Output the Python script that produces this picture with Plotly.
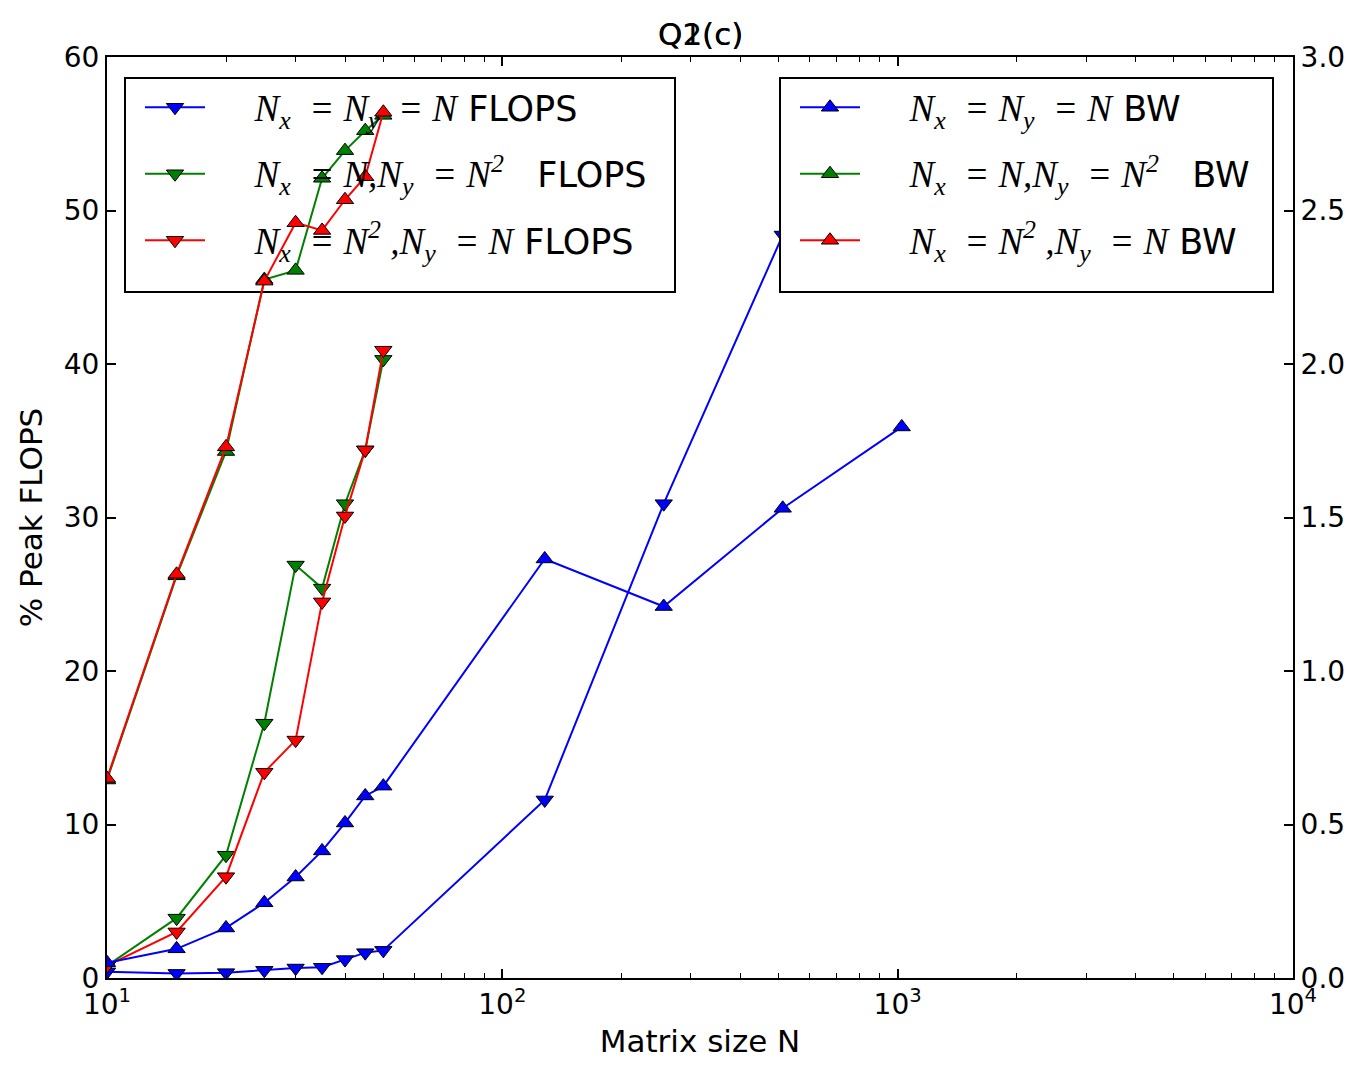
import plotly.graph_objects as go

# ---- data ----
N_small = [10, 15, 20, 25, 30, 35, 40, 45, 50]
N_flops_nn = [10, 15, 20, 25, 30, 35, 40, 45, 50, 128, 256, 512]
N_bw_nn = [10, 15, 20, 25, 30, 35, 40, 45, 50, 128, 256, 512, 1024]

flops_nn = [0.4, 0.3, 0.35, 0.5, 0.65, 0.7, 1.2, 1.65, 1.8, 11.6, 30.9, 48.4]
flops_nn2 = [0.8, 3.9, 8.0, 16.6, 26.9, 25.4, 30.9, 34.4, 40.3]
flops_n2n = [0.8, 3.0, 6.6, 13.4, 15.5, 24.5, 30.1, 34.4, 40.9]

bw_nn = [0.05, 0.095, 0.163, 0.245, 0.329, 0.414, 0.505, 0.593, 0.625, 1.365, 1.21, 1.53, 1.795]
bw_nn2 = [0.645, 1.31, 1.715, 2.275, 2.305, 2.605, 2.695, 2.76, 2.81]
bw_n2n = [0.65, 1.315, 1.73, 2.27, 2.46, 2.435, 2.535, 2.61, 2.82]

x_tickvals = [10, 100, 1000, 10000]
x_ticktext = ["10<sup>1</sup>", "10<sup>2</sup>", "10<sup>3</sup>", "10<sup>4</sup>"]
x_minor = [m * d for d in (10, 100, 1000) for m in range(2, 10)]

MATH = "font-family:'Liberation Serif','DejaVu Serif',serif;font-style:italic;font-size:37px"
SP = "\u00a0"
EQ = SP * 2 + "=" + SP
def m(s):
    return f"<span style=\"{MATH}\">{s}</span>"

lead = SP * 4
lab_flops = [
    lead + m(f"N<sub>x</sub>{EQ}N<sub>y</sub>{EQ}N") + " FLOPS",
    lead + m(f"N<sub>x</sub>{EQ}N,N<sub>y</sub>{EQ}N<sup>2</sup>") + SP * 3 + "FLOPS",
    lead + m(f"N<sub>x</sub>{EQ}N<sup>2</sup>{SP},N<sub>y</sub>{EQ}N") + " FLOPS",
]
lab_bw = [
    lead + m(f"N<sub>x</sub>{EQ}N<sub>y</sub>{EQ}N") + " BW",
    lead + m(f"N<sub>x</sub>{EQ}N,N<sub>y</sub>{EQ}N<sup>2</sup>") + SP * 3 + "BW",
    lead + m(f"N<sub>x</sub>{EQ}N<sup>2</sup>{SP},N<sub>y</sub>{EQ}N") + " BW",
]

BLUE, GREEN, RED = "#0000ff", "#008000", "#ff0000"

fig = go.Figure()

def add(x, y, color, sym, name, yaxis, legend, group):
    fig.add_trace(go.Scatter(
        x=x, y=y, mode="lines+markers", name=name, yaxis=yaxis, legend=legend,
        legendgroup=group,
        line=dict(color=color, width=2),
        marker=dict(symbol=sym, size=15, color=color, line=dict(color="black", width=1)),
    ))

add(N_flops_nn, flops_nn, BLUE, "triangle-down", lab_flops[0], "y", "legend", "f1")
add(N_small, flops_nn2, GREEN, "triangle-down", lab_flops[1], "y", "legend", "f2")
add(N_small, flops_n2n, RED, "triangle-down", lab_flops[2], "y", "legend", "f3")
add(N_bw_nn, bw_nn, BLUE, "triangle-up", lab_bw[0], "y2", "legend2", "b1")
add(N_small, bw_nn2, GREEN, "triangle-up", lab_bw[1], "y2", "legend2", "b2")
add(N_small, bw_n2n, RED, "triangle-up", lab_bw[2], "y2", "legend2", "b3")

# page offset of the plot div (body margin)
OX, OY = 8, 8
W, H = 1340, 1051
# plot area in page pixels
L, R, T, B = 107, 1293, 57, 978

def px(xp):
    return (xp - L) / (R - L)

def py(yp):
    return (B - yp) / (B - T)

tickfont = dict(family="DejaVu Sans", size=28, color="black")

fig.update_layout(
    width=W, height=H,
    margin=dict(l=L - OX, r=W - (R - OX), t=T - OY, b=H - (B - OY), pad=0),
    paper_bgcolor="white", plot_bgcolor="white",
    showlegend=True,
    font=dict(family="DejaVu Sans", color="black"),
    xaxis=dict(
        type="log", range=[1, 4], automargin=False,
        tickvals=x_tickvals, ticktext=x_ticktext,
        ticks="inside", ticklen=9, tickwidth=1.5, tickcolor="black",
        minor=dict(tickvals=x_minor, ticks="inside", ticklen=5, tickcolor="black",
                   tickwidth=1, showgrid=False),
        showline=True, linecolor="black", linewidth=2, mirror="ticks",
        showgrid=False, zeroline=False,
        tickfont=tickfont,
        title=dict(text="Matrix size N", font=dict(size=31), standoff=18),
    ),
    yaxis=dict(
        range=[0, 60], dtick=10, automargin=False,
        ticks="inside", ticklen=9, tickwidth=1.5, tickcolor="black",
        showline=True, linecolor="black", linewidth=2, mirror=True,
        showgrid=False, zeroline=False,
        tickfont=tickfont,
        title=dict(text="% Peak FLOPS", font=dict(size=31), standoff=12),
    ),
    yaxis2=dict(
        overlaying="y", side="right", automargin=False,
        range=[0, 3], dtick=0.5, tickformat=".1f",
        ticks="inside", ticklen=9, tickwidth=1.5, tickcolor="black",
        showline=True, linecolor="black", linewidth=2,
        showgrid=False, zeroline=False,
        tickfont=tickfont,
    ),
    legend=dict(
        x=px(140), y=py(78), xanchor="left", yanchor="top",
        bgcolor="rgba(0,0,0,0)", borderwidth=0,
        font=dict(size=35, color="black"),
        itemwidth=60, tracegroupgap=18, traceorder="grouped",
    ),
    legend2=dict(
        x=px(795), y=py(78), xanchor="left", yanchor="top",
        bgcolor="rgba(0,0,0,0)", borderwidth=0,
        font=dict(size=35, color="black"),
        itemwidth=60, tracegroupgap=18, traceorder="grouped",
    ),
    shapes=[
        # left legend box: under the BW (twin-axis) lines
        dict(type="rect", xref="paper", yref="paper",
             x0=px(125), x1=px(675), y0=py(292), y1=py(78),
             fillcolor="white", line=dict(color="black", width=2), layer="below"),
        # right legend box: above all traces
        dict(type="rect", xref="paper", yref="paper",
             x0=px(780), x1=px(1273), y0=py(292), y1=py(78),
             fillcolor="white", line=dict(color="black", width=2), layer="above"),
    ],
    annotations=[
        dict(text="Q1(c)", xref="paper", yref="paper", x=0.5, y=py(34),
             xanchor="center", yanchor="middle", showarrow=False,
             font=dict(family="DejaVu Sans", size=31, color="black")),
        dict(text="Q2(c)", xref="paper", yref="paper", x=0.5, y=py(34),
             xanchor="center", yanchor="middle", showarrow=False,
             font=dict(family="DejaVu Sans", size=31, color="black")),
    ],
)

fig.write_html("out.html")
